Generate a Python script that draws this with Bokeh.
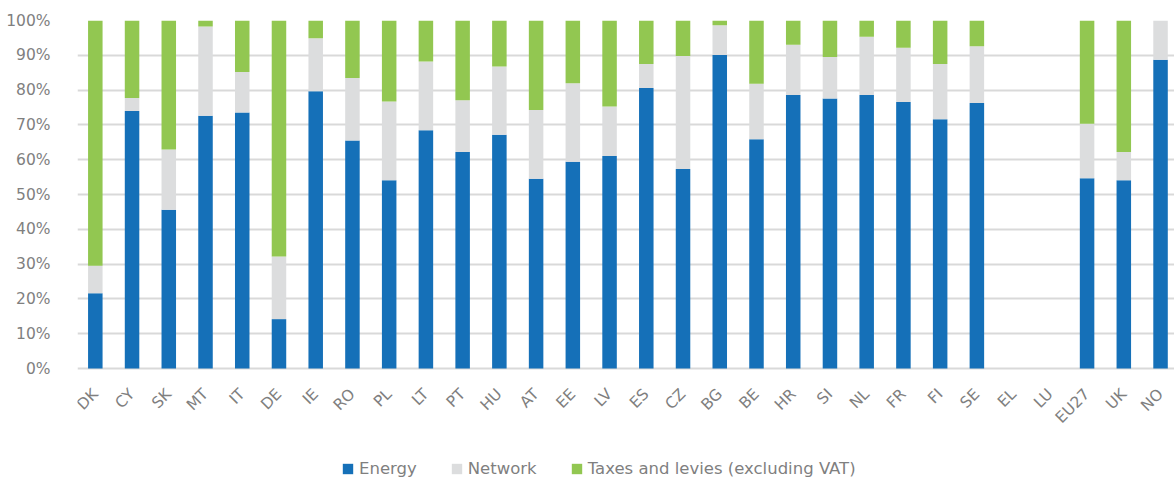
import math
from bokeh.plotting import figure
from bokeh.models import ColumnDataSource, FixedTicker, Legend, LegendItem, Range1d
from bokeh.embed import file_html
from bokeh.resources import INLINE

countries = ["DK", "CY", "SK", "MT", "IT", "DE", "IE", "RO", "PL", "LT", "PT", "HU", "AT", "EE", "LV",
             "ES", "CZ", "BG", "BE", "HR", "SI", "NL", "FR", "FI", "SE", "EL", "LU", "EU27", "UK", "NO"]
energy = [21.6, 74.0, 45.6, 72.6, 73.6, 14.2, 79.7, 65.5, 54.1, 68.5, 62.2, 67.2, 54.5, 59.4, 61.1,
          80.6, 57.3, 90.1, 65.9, 78.6, 77.6, 78.6, 76.6, 71.6, 76.3, 0, 0, 54.7, 54.1, 88.7]
network = [7.9, 3.7, 17.3, 25.7, 11.6, 18.0, 15.2, 18.0, 22.6, 19.7, 14.9, 19.6, 19.8, 22.6, 14.2,
           6.9, 32.5, 8.5, 15.9, 14.4, 11.9, 16.7, 15.6, 15.9, 16.3, 0, 0, 15.6, 8.1, 11.3]
taxes = [70.5, 22.3, 37.1, 1.7, 14.8, 67.8, 5.1, 16.5, 23.3, 11.8, 22.9, 13.2, 25.7, 18.0, 24.7,
         12.5, 10.2, 1.4, 18.2, 7.0, 10.5, 4.7, 7.8, 12.5, 7.4, 0, 0, 29.7, 37.8, 0]
series_names = ["Energy", "Network", "Taxes and levies (excluding VAT)"]
colors = ["#1570B8", "#DCDDDE", "#92C751"]
y_ticks = [0, 10, 20, 30, 40, 50, 60, 70, 80, 90, 100]

FONT = "DejaVu Sans"
TXT = "#7f7f7f"

idx = list(range(len(countries)))
source = ColumnDataSource(dict(x=idx, Energy=energy, Network=network, Taxes=taxes))

# frame extends below 0% so the legend can sit inside it; x axis is pinned at y=0
p = figure(frame_width=1097, frame_height=458, output_backend="svg", toolbar_location=None,
           x_range=Range1d(-0.485, 29.38), y_range=Range1d(-31.6, 100),
           min_border_left=77, min_border_right=0, min_border_top=20, min_border_bottom=0)
p.outline_line_color = None
p.background_fill_color = "white"
p.border_fill_color = "white"

renderers = p.vbar_stack(["Energy", "Network", "Taxes"], x="x", width=0.395, color=colors,
                         line_color=None, source=source)

p.xgrid.visible = False
p.ygrid.ticker = FixedTicker(ticks=y_ticks)
p.ygrid.grid_line_color = "#d9d9d9"
p.ygrid.grid_line_width = 2

xa = p.xaxis[0]
xa.fixed_location = 0
xa.ticker = FixedTicker(ticks=idx)
xa.major_label_overrides = {i: c for i, c in enumerate(countries)}
xa.major_label_orientation = math.pi / 4
xa.axis_line_color = None
xa.major_tick_line_color = None
xa.minor_tick_line_color = None
xa.major_label_text_font = FONT
xa.major_label_text_font_size = "15.5px"
xa.major_label_text_color = TXT
xa.major_label_standoff = 17

ya = p.yaxis[0]
ya.ticker = FixedTicker(ticks=y_ticks)
ya.axis_line_color = None
ya.major_tick_line_color = None
ya.minor_tick_line_color = None
ya.major_label_text_font = FONT
ya.major_label_text_font_size = "15.5px"
ya.major_label_text_color = TXT
ya.major_label_standoff = 21
ya.major_label_overrides = {t: f"{t}%" for t in y_ticks}

legend = Legend(items=[LegendItem(label=n, renderers=[r]) for n, r in zip(series_names, renderers)],
                orientation="horizontal", location=(264, 0))
legend.label_text_font = FONT
legend.label_text_font_size = "16.5px"
legend.label_text_color = TXT
legend.glyph_width = 13
legend.glyph_height = 13
legend.label_standoff = 5
legend.spacing = 33
legend.padding = 0
legend.margin = 0
legend.border_line_color = None
legend.background_fill_alpha = 0
p.add_layout(legend, "center")

open("out.html", "w").write(file_html(p, INLINE))
